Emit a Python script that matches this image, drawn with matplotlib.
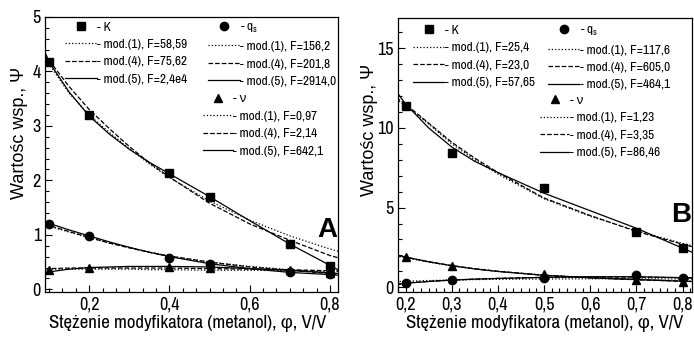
#!/usr/bin/env python3
# -*- coding: utf-8 -*-
"""
Retention parameters K, q_s and v vs. methanol content, panels A and B
"""

import matplotlib
matplotlib.use('Agg')
import matplotlib.pyplot as plt
from matplotlib.legend import Legend
from matplotlib.ticker import MultipleLocator, FixedLocator, FixedFormatter

plt.rcParams['font.family'] = ['Archivo Narrow', 'Liberation Sans', 'DejaVu Sans']

# ---- panel A : measured points
phiA   = [0.1, 0.2, 0.4, 0.5, 0.7, 0.8]
K_A    = [4.17, 3.20, 2.13, 1.69, 0.83, 0.43]
qs_A   = [1.19, 0.97, 0.58, 0.46, 0.32, 0.28]
nu_A   = [0.35, 0.39, 0.41, 0.40, 0.36, 0.30]

# ---- panel A : model curves
fitA      = [0.09, 0.1, 0.15, 0.2, 0.25, 0.3, 0.35, 0.4, 0.5, 0.6, 0.7, 0.8, 0.82]
K_A_mod1  = [4.25, 4.13, 3.60, 3.20, 2.88, 2.58, 2.30, 2.05, 1.62, 1.27, 0.98, 0.74, 0.70]
K_A_mod4  = [4.30, 4.20, 3.72, 3.30, 2.95, 2.62, 2.32, 2.06, 1.58, 1.20, 0.90, 0.62, 0.58]
K_A_mod5  = [4.35, 4.17, 3.62, 3.18, 2.85, 2.57, 2.33, 2.12, 1.70, 1.26, 0.83, 0.44, 0.36]
qs_A_mod1 = [1.18, 1.16, 1.05, 0.95, 0.85, 0.77, 0.68, 0.61, 0.50, 0.42, 0.36, 0.30, 0.29]
qs_A_mod4 = [1.19, 1.17, 1.06, 0.95, 0.85, 0.76, 0.68, 0.61, 0.50, 0.41, 0.35, 0.29, 0.28]
qs_A_mod5 = [1.22, 1.21, 1.09, 0.98, 0.87, 0.77, 0.68, 0.60, 0.47, 0.38, 0.31, 0.27, 0.26]
nu_A_mod1 = [0.37, 0.37, 0.37, 0.37, 0.37, 0.37, 0.36, 0.36, 0.35, 0.35, 0.34, 0.33, 0.33]
nu_A_mod4 = [0.38, 0.38, 0.39, 0.39, 0.39, 0.39, 0.39, 0.39, 0.38, 0.37, 0.36, 0.34, 0.34]
nu_A_mod5 = [0.30, 0.32, 0.37, 0.40, 0.41, 0.42, 0.42, 0.42, 0.41, 0.38, 0.35, 0.30, 0.29]

# ---- panel B : measured points
phiB   = [0.2, 0.3, 0.5, 0.7, 0.8]
K_B    = [11.4, 8.4, 6.2, 3.45, 2.45]
qs_B   = [0.27, 0.47, 0.60, 0.74, 0.57]
nu_B   = [1.91, 1.36, 0.82, 0.47, 0.35]

# ---- panel B : model curves
fitB      = [0.18, 0.2, 0.25, 0.3, 0.35, 0.4, 0.5, 0.6, 0.7, 0.8, 0.82]
K_B_mod1  = [11.8, 11.4, 10.25, 9.0, 8.0, 7.1, 5.55, 4.45, 3.55, 2.75, 2.6]
K_B_mod4  = [11.9, 11.5, 10.3, 9.1, 8.1, 7.2, 5.6, 4.5, 3.5, 2.7, 2.55]
K_B_mod5  = [12.3, 11.5, 10.0, 8.8, 7.9, 7.2, 5.9, 4.8, 3.7, 2.45, 2.2]
qs_B_mod1 = [0.35, 0.38, 0.42, 0.45, 0.48, 0.50, 0.52, 0.53, 0.53, 0.52, 0.52]
qs_B_mod4 = [0.20, 0.27, 0.37, 0.45, 0.51, 0.56, 0.62, 0.64, 0.64, 0.60, 0.59]
qs_B_mod5 = [0.15, 0.25, 0.36, 0.45, 0.51, 0.55, 0.62, 0.66, 0.66, 0.60, 0.58]
nu_B_mod1 = [1.95, 1.85, 1.58, 1.35, 1.15, 1.00, 0.76, 0.60, 0.49, 0.40, 0.38]
nu_B_mod4 = [2.00, 1.88, 1.60, 1.36, 1.16, 1.00, 0.75, 0.59, 0.47, 0.38, 0.36]
nu_B_mod5 = [2.02, 1.90, 1.60, 1.35, 1.15, 0.99, 0.75, 0.60, 0.48, 0.38, 0.36]

# ---- legend texts
legA_K  = ['- K', '- mod.(1), F=58,59', '- mod.(4), F=75,62', '- mod.(5), F=2,4e4']
legA_qs = ['- q$_\\mathregular{s}$', '- mod.(1), F=156,2', '- mod.(4), F=201,8', '- mod.(5), F=2914,0']
legA_nu = ['- \u03bd', '- mod.(1), F=0,97', '- mod.(4), F=2,14', '- mod.(5), F=642,1']
legB_K  = ['- K', '- mod.(1), F=25,4', '- mod.(4), F=23,0', '- mod.(5), F=57,65']
legB_qs = ['- q$_\\mathregular{s}$', '- mod.(1), F=117,6', '- mod.(4), F=605,0', '- mod.(5), F=464,1']
legB_nu = ['- \u03bd', '- mod.(1), F=1,23', '- mod.(4), F=3,35', '- mod.(5), F=86,46']

xticksA = [0.2, 0.4, 0.6, 0.8]
xlabsA  = ['0,2', '0,4', '0,6', '0,8']
yticksA = [0, 1, 2, 3, 4, 5]
xticksB = [0.2, 0.3, 0.4, 0.5, 0.6, 0.7, 0.8]
xlabsB  = ['0,2', '0,3', '0,4', '0,5', '0,6', '0,7', '0,8']
yticksB = [0, 5, 10, 15]

xlabel = 'Stężenie modyfikatora (metanol), \u03c6, V/V'
ylabel = 'Wartośc wsp., \u03a8'

styles = [':', '--', '-']
lw = 0.9


def drawPanel(ax, phi, pts, markers, fitx, fits):
    '''plots measured points and the three model curves for each parameter'''
    handles = []
    for y, m, curves in zip(pts, markers, fits):
        h = [ax.plot(phi, y, m, color='black', ms=6, ls='none', zorder=3)[0]]
        for c, ls in zip(curves, styles):
            h.append(ax.plot(fitx, c, ls=ls, color='black', lw=lw)[0])
        handles.append(h)
    return handles


def addLegend(ax, handles, labels, loc, hl=2.4):
    # built directly so that no legend gets drawn twice
    leg = Legend(ax, handles, labels, loc='upper left', bbox_to_anchor=loc,
                 frameon=False, fontsize=9.5, handlelength=hl,
                 handletextpad=0.05, labelspacing=0.47, borderaxespad=0,
                 borderpad=0)
    ax.add_artist(leg)


def styleAxis(ax, xt, xl, yt, yminor, xminor, ylab_xy, xlab_x):
    ax.xaxis.set_major_locator(FixedLocator(xt))
    ax.xaxis.set_major_formatter(FixedFormatter(xl))
    ax.xaxis.set_minor_locator(MultipleLocator(xminor))
    ax.yaxis.set_major_locator(FixedLocator(yt))
    ax.yaxis.set_minor_locator(MultipleLocator(yminor))
    ax.tick_params(which='both', direction='in', top=False, right=False)
    ax.tick_params(which='major', length=5, width=0.8, labelsize=13, pad=3)
    ax.tick_params(which='minor', length=3, width=0.8)
    ax.set_xlabel(xlabel, fontsize=13.5)
    ax.set_ylabel(ylabel, fontsize=13, family=['Liberation Sans', 'DejaVu Sans'])
    ax.yaxis.set_label_coords(*ylab_xy)
    ax.xaxis.set_label_coords(xlab_x, -0.085)
    ax.xaxis.label.set_va('top')
    for s in ax.spines.values():
        s.set_linewidth(0.9)


fig = plt.figure(figsize=(6.94, 3.38), dpi=100)
axA = fig.add_axes([0.065, 0.136, 0.422, 0.814])
axB = fig.add_axes([0.573, 0.136, 0.424, 0.811])

hA = drawPanel(axA, phiA, [K_A, qs_A, nu_A], ['s', 'o', '^'], fitA,
               [[K_A_mod1, K_A_mod4, K_A_mod5],
                [qs_A_mod1, qs_A_mod4, qs_A_mod5],
                [nu_A_mod1, nu_A_mod4, nu_A_mod5]])
hB = drawPanel(axB, phiB, [K_B, qs_B, nu_B], ['s', 'o', '^'], fitB,
               [[K_B_mod1, K_B_mod4, K_B_mod5],
                [qs_B_mod1, qs_B_mod4, qs_B_mod5],
                [nu_B_mod1, nu_B_mod4, nu_B_mod5]])

axA.set_xlim(0.09, 0.82)
axA.set_ylim(-0.05, 5)
axB.set_xlim(0.183, 0.82)
axB.set_ylim(-0.3, 16.9)

styleAxis(axA, xticksA, xlabsA, yticksA, 0.2, 0.2 / 6, (-0.058, 0.58), 0.485)
styleAxis(axB, xticksB, xlabsB, yticksB, 1, 0.1 / 6, (-0.068, 0.59), 0.5)

addLegend(axA, hA[0], legA_K, (0.068, 0.984))
addLegend(axA, hA[1], legA_qs, (0.556, 0.984))
addLegend(axA, hA[2], legA_nu, (0.539, 0.723), hl=2.25)
addLegend(axB, hB[0], legB_K, (0.051, 0.975))
addLegend(axB, hB[1], legB_qs, (0.51, 0.975))
addLegend(axB, hB[2], legB_nu, (0.483, 0.72), hl=2.25)

axA.text(0.962, 0.225, 'A', transform=axA.transAxes, fontsize=20,
         fontweight='bold', ha='center', va='center', family='Liberation Sans')
axB.text(0.965, 0.28, 'B', transform=axB.transAxes, fontsize=20,
         fontweight='bold', ha='center', va='center', family='Liberation Sans')

plt.savefig('out.png', dpi=100)
